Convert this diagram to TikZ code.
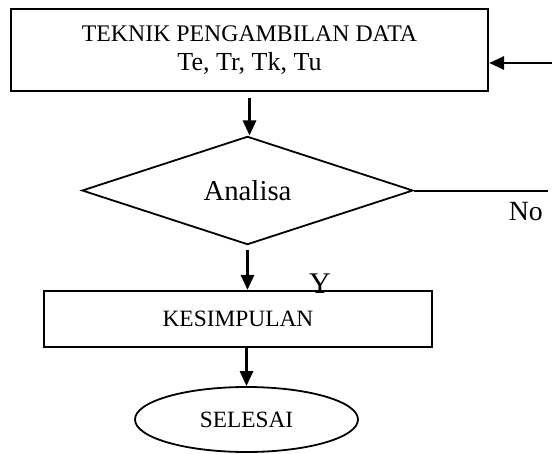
\documentclass[tikz,border=0pt]{standalone}
\usepackage{fontspec}
\setmainfont{Liberation Serif}
\usetikzlibrary{arrows.meta,positioning,shapes.geometric}
\begin{document}
\begin{tikzpicture}[
		x=1pt, y=-1pt,
		>={Triangle[length=15pt, width=13pt]},
		line/.style={->, line width=2.8pt},
		plain/.style={line width=2pt},
		proc/.style={draw, line width=2.2pt, align=center, inner sep=0pt},
		decision/.style={draw, diamond, line width=1.8pt, inner sep=0pt, minimum width=331pt, minimum height=105pt, font=\fontsize{28.8}{34}\selectfont},
		term/.style={draw, ellipse, line width=1.8pt, inner sep=0pt, minimum width=223pt, minimum height=65pt, font=\fontsize{23.3}{28}\selectfont},
		lbl/.style={inner sep=0pt}
		]
		\useasboundingbox (0,0) rectangle (552,453);
		% Flowchart nodes
		\node[proc, minimum width=477pt, minimum height=82pt, font=\fontsize{23.8}{29}\selectfont] (data) at (249.5,50) {TEKNIK PENGAMBILAN DATA\\{\fontsize{26}{29}\selectfont Te, Tr, Tk, Tu}};
		\node[decision] (analisa) at (247.5,190.5) {Analisa};
		\node[proc, minimum width=388pt, minimum height=56pt, font=\fontsize{23.4}{28}\selectfont] (kesimpulan) at (238,319) {KESIMPULAN};
		\node[term] (selesai) at (246.5,419.5) {SELESAI};
		
		% Loose ends
		\coordinate (back) at (552,63);
		\coordinate (noend) at (548,190.5);
		
		% Main flow
		\draw[line] ([yshift=-6pt]data.south) -- (data.south |- analisa.north);
		\draw[line] ([yshift=-4pt]analisa.south) -- (analisa.south |- kesimpulan.north);
		\draw[line] (kesimpulan.south -| selesai.north) -- (selesai.north);
		
		% Return and branch
		\draw[line] (back) -- (back -| data.east);
		\draw[plain] (analisa.east) -- (noend);
		\node[lbl, anchor=base east, font=\fontsize{27.8}{32}\selectfont] (no) at (543,220) {No};
		\node[lbl, anchor=base, font=\fontsize{30}{34}\selectfont] (yes) at (320,293) {Y};
	\end{tikzpicture}
\end{document}
